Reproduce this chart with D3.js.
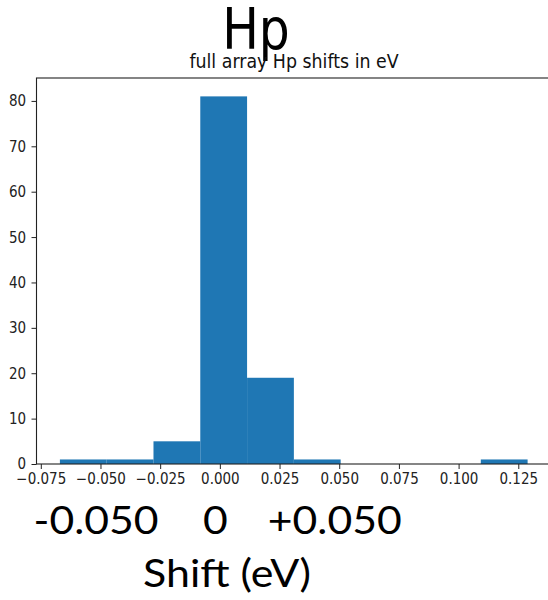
<!DOCTYPE html>
<html>
<head>
<meta charset="utf-8">
<script src="https://cdn.jsdelivr.net/npm/d3@7"></script>
<style>
  body { margin: 0; background: #fff; }
  svg { display: block; }
</style>
</head>
<body>
<script>
// histogram bins
const binEdges = [-0.0670, -0.0474, -0.0278, -0.0082, 0.0114, 0.0310, 0.0506, 0.0701, 0.0897, 0.1093, 0.1289];
const counts = [1, 1, 5, 81, 19, 1, 0, 0, 0, 1];
const xTicks = [-0.075, -0.050, -0.025, 0.000, 0.025, 0.050, 0.075, 0.100, 0.125];
const yTicks = [0, 10, 20, 30, 40, 50, 60, 70, 80];
const bigLabels = [{v: -0.05, t: '-0.050'}, {v: 0, t: '0'}, {v: 0.05, t: '+0.050'}];

const width = 548;
const height = 600;
const margin = {left: 36.5, top: 78, right: -3, bottom: 136};
const squish = 0.87; // the picture's small text is narrowed sideways

var svg = d3.select('body')
    .append('svg')
    .attr('width', width)
    .attr('height', height);

var x = d3.scaleLinear()
    .domain([-0.0768, 0.1387])
    .range([margin.left, width - margin.right]);

var y = d3.scaleLinear()
    .domain([0, 85.05])
    .range([height - margin.bottom, margin.top]);

var bins = counts.map((c, i) => ({x0: binEdges[i], x1: binEdges[i + 1], n: c}));

svg.selectAll('rect.bar')
    .data(bins.filter(d => d.n > 0))
    .join('rect')
    .attr('class', 'bar')
    .attr('fill', '#1f77b4')
    .attr('x', d => x(d.x0))
    .attr('width', d => x(d.x1) - x(d.x0))
    .attr('y', d => y(d.n))
    .attr('height', d => y(0) - y(d.n));

// axes
var xAxis = svg.append('g')
    .attr('transform', 'translate(0,' + y(0) + ')')
    .call(d3.axisBottom(x).tickValues(xTicks).tickSize(5).tickPadding(4)
        .tickFormat(d => d3.format('.3f')(d).replace('-', '\u2212')));

var yAxis = svg.append('g')
    .attr('transform', 'translate(' + margin.left + ',0)')
    .call(d3.axisLeft(y).tickValues(yTicks).tickSize(5).tickPadding(7));

[xAxis, yAxis].forEach(g => {
    g.select('.domain').remove();
    g.selectAll('text')
        .attr('font-family', 'DejaVu Sans')
        .attr('font-size', 15.5)
        .attr('fill', '#222')
        .attr('transform', 'scale(' + squish + ',1)');
    g.selectAll('line').attr('stroke', '#222');
});

// spines
svg.append('rect')
    .attr('x', margin.left)
    .attr('y', margin.top)
    .attr('width', width - margin.right - margin.left)
    .attr('height', y(0) - margin.top)
    .attr('fill', 'none')
    .attr('stroke', '#222')
    .attr('stroke-width', 1.1);

// titles
svg.append('text')
    .attr('transform', 'translate(256,48.5) scale(' + squish + ',1)')
    .attr('text-anchor', 'middle')
    .attr('font-family', 'DejaVu Sans')
    .attr('font-size', 56)
    .text('Hp');

svg.append('text')
    .attr('transform', 'translate(294,68) scale(' + squish + ',1)')
    .attr('text-anchor', 'middle')
    .attr('font-family', 'DejaVu Sans')
    .attr('font-size', 20)
    .attr('fill', '#111')
    .text('full array Hp shifts in eV');

// big annotations under the axis
svg.selectAll('text.big')
    .data(bigLabels)
    .join('text')
    .attr('class', 'big')
    .attr('transform', d => 'translate(' + (x(d.v) - 4.5) + ',534) scale(1.08,1)')
    .attr('text-anchor', 'middle')
    .attr('font-family', 'Lato')
    .attr('font-size', 39.5)
    .text(d => d.t);

svg.append('text')
    .attr('transform', 'translate(227,587) scale(1.1,1)')
    .attr('text-anchor', 'middle')
    .attr('font-family', 'Lato')
    .attr('font-size', 39)
    .text('Shift (eV)');
</script>
</body>
</html>
